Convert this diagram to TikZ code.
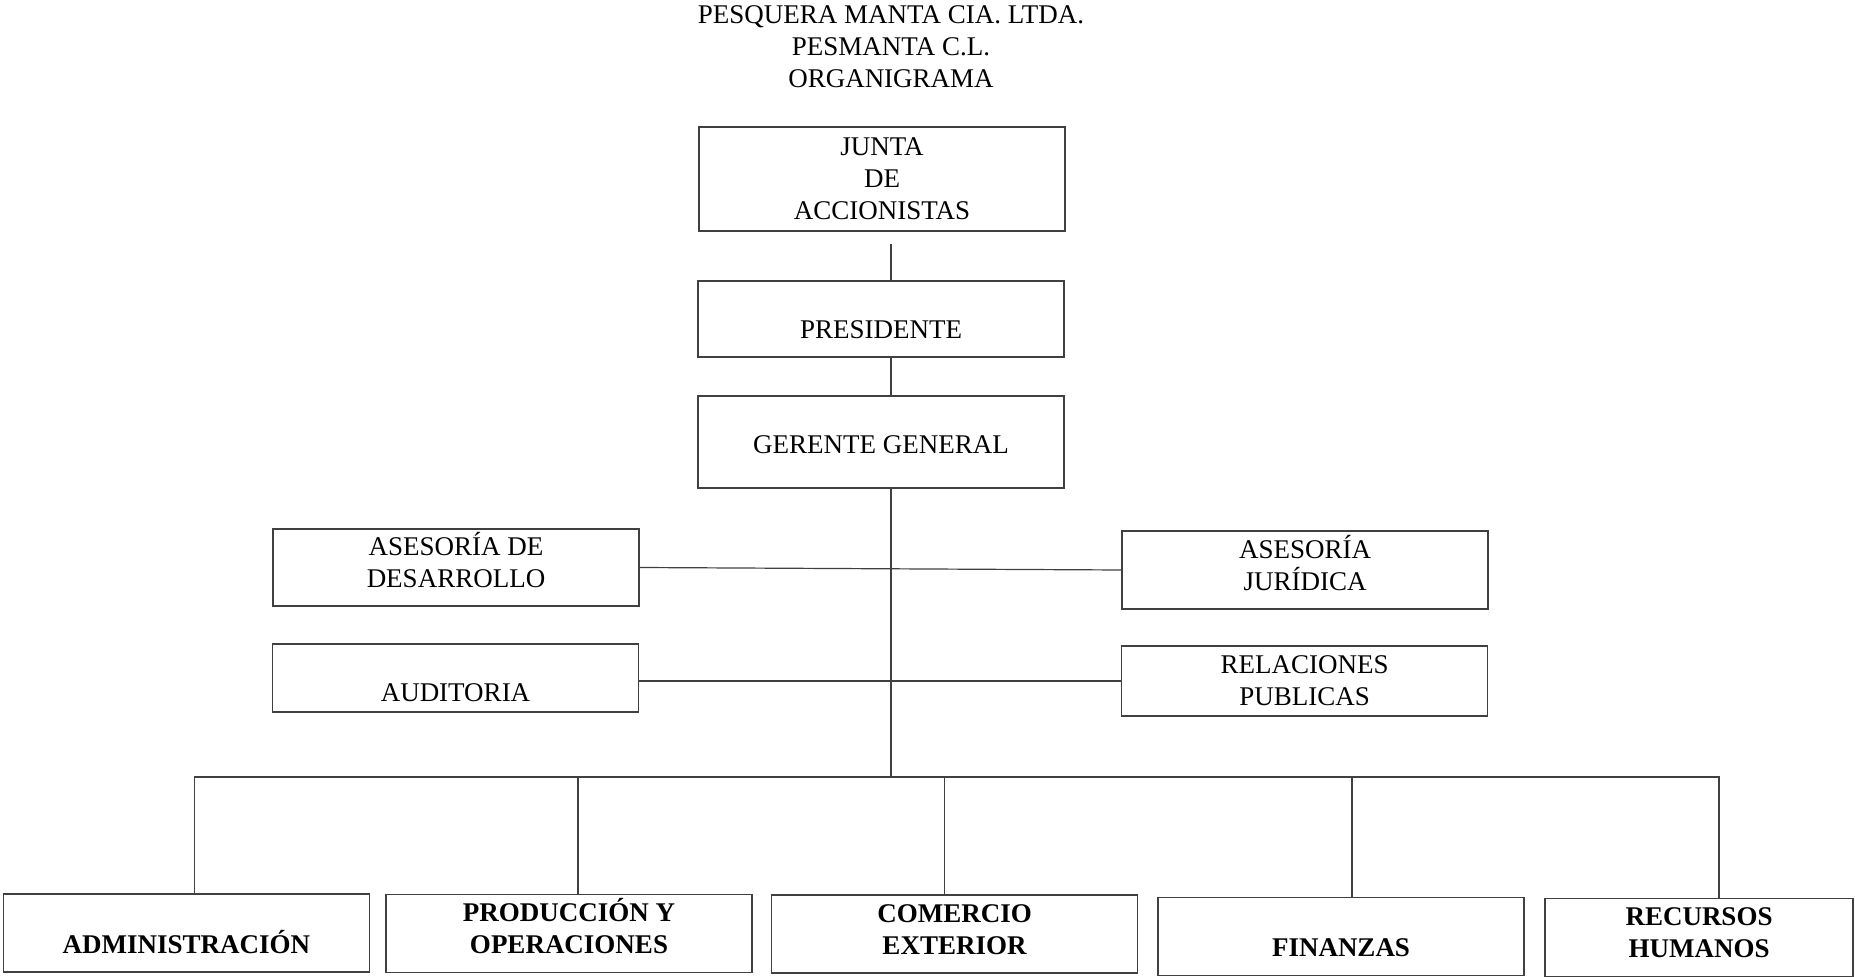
\documentclass[tikz,border=0pt]{standalone}
\usepackage{fontspec}
\setmainfont{Liberation Serif}

\begin{document}
\begin{tikzpicture}[x=0.5pt,y=-0.5pt,
  every node/.style={font=\fontsize{13.5}{16}\selectfont,align=center,inner sep=2pt},
  caja/.style={draw=black!75,line width=0.6pt,minimum width=183pt,minimum height=#1},
  caja/.default=39pt,
  depto/.style={caja,font=\fontsize{13.5}{16}\selectfont\bfseries},
  abajo/.style={text height=#1,text depth=0pt},
  dos/.style={text height=25pt,text depth=5pt},
  linea/.style={draw=black!75,line width=0.6pt}]
  \useasboundingbox (0,0) rectangle (1855,977);
  \node (titulo) at (891,47) {PESQUERA MANTA CIA. LTDA.\\PESMANTA C.L.\\ORGANIGRAMA};
  \node[caja=52pt] (junta) at (882,179) {JUNTA\\DE\\ACCIONISTAS};
  \node[caja=38pt,abajo=19.5pt] (pres) at (881,319) {PRESIDENTE};
  \node[caja=46pt,abajo=12pt] (gerente) at (881,442) {GERENTE GENERAL};
  \node[caja=38.5pt,dos] (asdes) at (456,567.5) {ASESORÍA DE\\DESARROLLO};
  \node[caja=34pt,abajo=23pt] (audit) at (455.5,678) {AUDITORIA};
  \node[caja,dos] (asjur) at (1305,570) {ASESORÍA\\JURÍDICA};
  \node[caja=35pt] (relpub) at (1304.5,681) {RELACIONES\\PUBLICAS};
  \node[depto,abajo=20pt] (admin) at (186.5,933) {ADMINISTRACIÓN};
  \node[depto,dos] (prod) at (569,933.5) {PRODUCCIÓN Y\\OPERACIONES};
  \node[depto,dos] (comext) at (954.5,934) {COMERCIO\\EXTERIOR};
  \node[depto,abajo=20pt] (fin) at (1341,936.5) {FINANZAS};
  \node[depto,dos,minimum width=154pt] (rrhh) at (1699,937.5) {RECURSOS\\HUMANOS};
  \coordinate (nudo) at (891,777);
  \draw[linea] ([yshift=-6pt]junta.south -| nudo) -- (pres.north -| nudo);
  \draw[linea] (pres.south -| nudo) -- (gerente.north -| nudo);
  \draw[linea] (gerente.south -| nudo) -- (nudo);
  \draw[linea] (asdes.east) -- (asjur.west);
  \draw[linea] (audit.east |- relpub.west) -- (relpub.west);
  \draw[linea] ([xshift=4pt]admin.north) |- (nudo) -| ([xshift=10pt]rrhh.north);
  \foreach \n/\d in {prod/4.5pt,comext/-5pt,fin/5.5pt}
    \draw[linea] ([xshift=\d]\n.north) -- ([xshift=\d]\n.north |- nudo);
\end{tikzpicture}
\end{document}
